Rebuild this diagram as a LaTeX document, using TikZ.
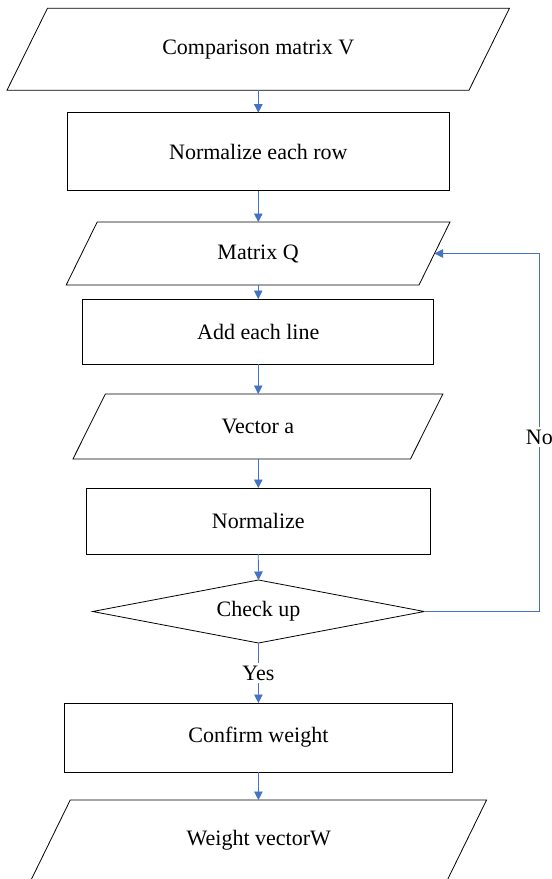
\documentclass[tikz,border=0pt]{standalone}
\usepackage{fontspec}
\setmainfont{Liberation Serif}
\usetikzlibrary{shapes.geometric,arrows.meta,calc}
\definecolor{linkblue}{HTML}{4472C4}
\newcommand\drawpgram[2]{%
  \draw[outline] ([xshift=-#2]#1.south west) -- ([xshift=-#2]#1.south east)
    -- ([xshift=#2]#1.north east) -- ([xshift=#2]#1.north west) -- cycle;}
\begin{document}
\begin{tikzpicture}[x=1pt,y=-1pt,
  outline/.style={draw=black, line width=0.8pt},
  base/.style={inner sep=0pt, outer sep=0pt, font=\fontsize{22}{26}\selectfont},
  procbox/.style={base, outline, rectangle},
  iobox/.style={base, rectangle},
  decbox/.style={base, outline, diamond, shape aspect=5.27},
  arr/.style={draw=linkblue, line width=0.8pt, -{Triangle[width=8.5pt,length=8.5pt]}},
  lbl/.style={fill=white, inner sep=3pt, font=\fontsize{22}{26}\selectfont}
]
\useasboundingbox (0,0) rectangle (552,879);
\node[iobox, minimum width=462pt, minimum height=82pt] (p1) at (258.25,49.2) {Comparison matrix V};
\node[procbox, minimum width=381.4pt, minimum height=78pt] (b1) at (258.3,151.7) {Normalize each row};
\node[iobox, minimum width=352.8pt, minimum height=63pt] (p2) at (258.1,253.5) {Matrix Q};
\node[procbox, minimum width=351pt, minimum height=65pt] (b2) at (258.25,331.5) {Add each line};
\node[iobox, minimum width=337.5pt, minimum height=65pt] (p3) at (257.9,426.5) {Vector a};
\node[procbox, minimum width=343.4pt, minimum height=66pt] (b3) at (258.3,521) {Normalize};
\node[decbox, minimum width=331.7pt, minimum height=63pt] (d) at (258.5,611.5) {Check up};
\node[procbox, minimum width=387.2pt, minimum height=69pt] (b4) at (258.4,737.5) {Confirm weight};
\node[iobox, minimum width=416.3pt, minimum height=80pt] (p5) at (258.8,840) {Weight vectorW};

\drawpgram{p1}{20.25pt}
\drawpgram{p2}{15.5pt}
\drawpgram{p3}{16.2pt}
\drawpgram{p5}{19.6pt}

\coordinate (c1) at (539.4,611.5);
\coordinate (c2) at (539.4,253.5);

\draw[arr] (p1.south) -- (p1.south -| b1.north) -- (b1.north);
\draw[arr] (b1.south) -- (p2.north -| b1.south);
\draw[arr] (p2.south -| b2.north) -- (b2.north);
\draw[arr] (b2.south) -- (p3.north -| b2.south);
\draw[arr] (p3.south -| b3.north) -- (b3.north);
\draw[arr] (b3.south) -- (d.north);
\draw[arr] (d.south) -- node[lbl] {Yes} (b4.north);
\draw[arr] (b4.south) -- (p5.north -| b4.south);
\draw[arr] (d.east) -- (c1) -- node[lbl, pos=0.487] {No} (c2) -- (p2.east);
\end{tikzpicture}
\end{document}
